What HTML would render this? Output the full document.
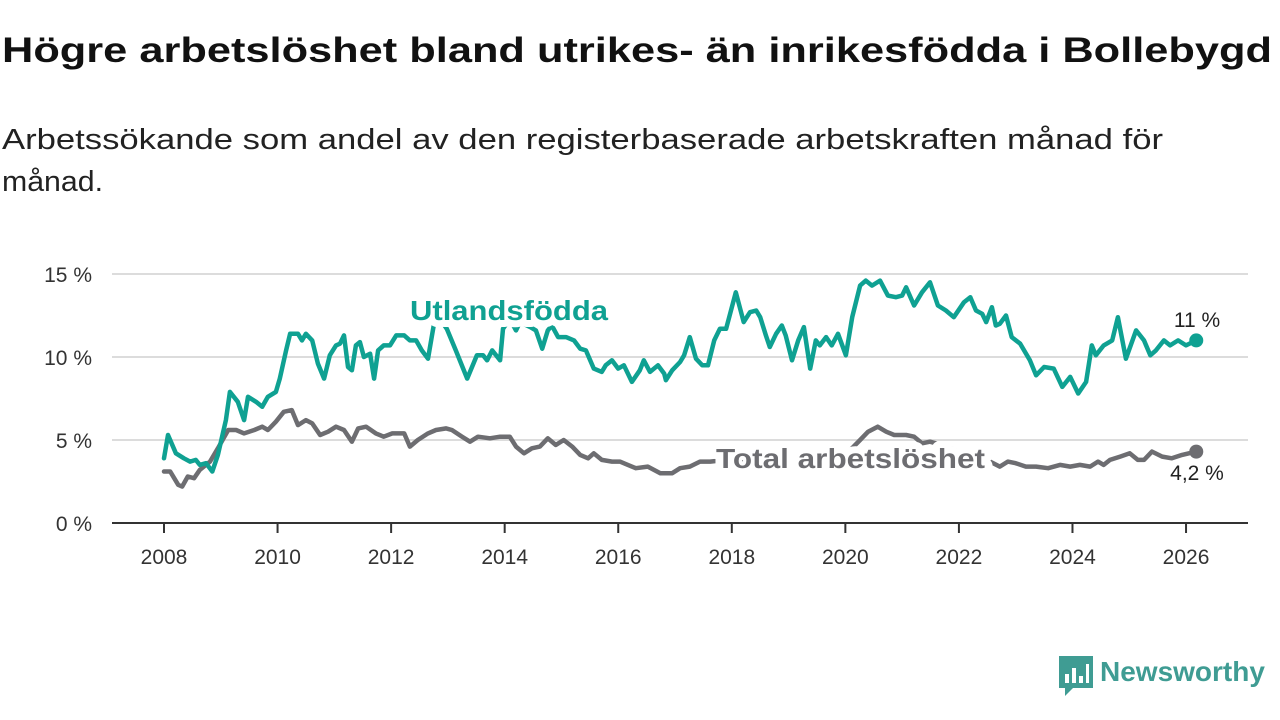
<!DOCTYPE html>
<html><head><meta charset="utf-8">
<style>
body{margin:0;background:#fff;width:1280px;height:720px;overflow:hidden;font-family:"Liberation Sans","DejaVu Sans",sans-serif;}
svg{position:absolute;left:0;top:0}
</style></head><body>
<svg id="chart" width="1280" height="720">
<text x="2" y="62" font-size="35" font-weight="bold" fill="#111" font-family="Liberation Sans, DejaVu Sans, sans-serif" textLength="1270" lengthAdjust="spacingAndGlyphs">Högre arbetslöshet bland utrikes- än inrikesfödda i Bollebygd</text>
<text font-size="29" fill="#222" font-family="Liberation Sans, DejaVu Sans, sans-serif"><tspan x="2" y="149" textLength="1161" lengthAdjust="spacingAndGlyphs">Arbetssökande som andel av den registerbaserade arbetskraften månad för</tspan><tspan x="2" y="191" textLength="101" lengthAdjust="spacingAndGlyphs">månad.</tspan></text>
</svg>
<script>
const yTicks=[0,5,10,15];
const xTicks=[2008,2010,2012,2014,2016,2018,2020,2022,2024,2026];
const foreignT=[2008.0,2008.07,2008.21,2008.35,2008.46,2008.56,2008.63,2008.74,2008.85,2008.95,2009.09,2009.16,2009.30,2009.41,2009.48,2009.62,2009.73,2009.83,2009.97,2010.04,2010.15,2010.22,2010.36,2010.43,2010.50,2010.61,2010.71,2010.82,2010.92,2011.03,2011.10,2011.17,2011.24,2011.31,2011.38,2011.45,2011.52,2011.63,2011.70,2011.77,2011.87,2011.98,2012.09,2012.23,2012.33,2012.44,2012.54,2012.65,2012.72,2012.76,2012.86,2012.98,2013.14,2013.34,2013.51,2013.62,2013.69,2013.78,2013.92,2013.97,2014.09,2014.20,2014.27,2014.45,2014.55,2014.66,2014.76,2014.83,2014.94,2015.08,2015.22,2015.33,2015.43,2015.57,2015.71,2015.78,2015.89,2016.0,2016.10,2016.24,2016.38,2016.45,2016.56,2016.70,2016.81,2016.84,2016.95,2017.09,2017.16,2017.26,2017.37,2017.48,2017.58,2017.69,2017.79,2017.90,2017.97,2018.07,2018.21,2018.32,2018.43,2018.50,2018.60,2018.67,2018.78,2018.88,2018.95,2019.06,2019.17,2019.27,2019.38,2019.48,2019.55,2019.66,2019.76,2019.87,2020.01,2020.12,2020.26,2020.36,2020.47,2020.61,2020.75,2020.89,2021.0,2021.07,2021.21,2021.35,2021.49,2021.63,2021.77,2021.91,2022.09,2022.20,2022.30,2022.41,2022.48,2022.58,2022.65,2022.72,2022.83,2022.93,2023.08,2023.25,2023.36,2023.50,2023.67,2023.82,2023.96,2024.10,2024.24,2024.34,2024.41,2024.55,2024.70,2024.80,2024.94,2025.12,2025.26,2025.37,2025.47,2025.61,2025.72,2025.86,2026.0,2026.18];
const foreignV=[3.9,5.3,4.2,3.9,3.7,3.8,3.5,3.6,3.1,4.1,6.2,7.9,7.3,6.2,7.6,7.3,7.0,7.6,7.9,8.7,10.4,11.4,11.4,11.0,11.4,11.0,9.6,8.7,10.1,10.7,10.8,11.3,9.4,9.2,10.7,10.9,10.0,10.2,8.7,10.4,10.7,10.7,11.3,11.3,11.0,11.0,10.4,9.9,11.3,12.1,12.3,11.7,10.4,8.7,10.1,10.1,9.8,10.4,9.8,11.7,12.3,11.6,12.1,11.8,11.6,10.5,11.6,11.9,11.2,11.2,11.0,10.5,10.4,9.3,9.1,9.5,9.8,9.3,9.5,8.5,9.2,9.8,9.1,9.5,9.0,8.6,9.2,9.7,10.1,11.2,9.9,9.5,9.5,11.0,11.7,11.7,12.6,13.9,12.1,12.7,12.8,12.4,11.3,10.6,11.4,11.9,11.3,9.8,11.0,11.8,9.3,11.0,10.7,11.2,10.7,11.4,10.1,12.4,14.3,14.6,14.3,14.6,13.7,13.6,13.7,14.2,13.1,13.9,14.5,13.1,12.8,12.4,13.3,13.6,12.8,12.6,12.1,13.0,11.9,12.0,12.5,11.2,10.8,9.8,8.9,9.4,9.3,8.2,8.8,7.8,8.5,10.7,10.1,10.7,11.0,12.4,9.9,11.6,11.0,10.1,10.4,11.0,10.7,11.0,10.7,11.0];
const totalT=[2008.0,2008.11,2008.25,2008.32,2008.42,2008.53,2008.63,2008.81,2008.95,2009.13,2009.27,2009.41,2009.59,2009.73,2009.83,2009.97,2010.11,2010.25,2010.36,2010.50,2010.61,2010.75,2010.89,2011.03,2011.17,2011.31,2011.42,2011.56,2011.73,2011.87,2012.02,2012.23,2012.33,2012.47,2012.65,2012.79,2012.97,2013.07,2013.25,2013.39,2013.53,2013.74,2013.92,2014.09,2014.20,2014.34,2014.48,2014.62,2014.76,2014.90,2015.04,2015.19,2015.33,2015.47,2015.57,2015.71,2015.89,2016.03,2016.17,2016.31,2016.52,2016.74,2016.95,2017.09,2017.26,2017.44,2017.62,2017.9,2018.2,2018.5,2018.8,2019.1,2019.4,2019.7,2020.0,2020.26,2020.40,2020.57,2020.72,2020.86,2021.07,2021.21,2021.35,2021.49,2021.7,2022.0,2022.3,2022.5,2022.55,2022.72,2022.86,2023.0,2023.18,2023.36,2023.57,2023.78,2023.96,2024.13,2024.31,2024.45,2024.55,2024.66,2024.84,2025.01,2025.15,2025.26,2025.40,2025.58,2025.75,2025.93,2026.18];
const totalV=[3.1,3.1,2.3,2.2,2.8,2.7,3.2,3.7,4.5,5.6,5.6,5.4,5.6,5.8,5.6,6.1,6.7,6.8,5.9,6.2,6.0,5.3,5.5,5.8,5.6,4.9,5.7,5.8,5.4,5.2,5.4,5.4,4.6,5.0,5.4,5.6,5.7,5.6,5.2,4.9,5.2,5.1,5.2,5.2,4.6,4.2,4.5,4.6,5.1,4.7,5.0,4.6,4.1,3.9,4.2,3.8,3.7,3.7,3.5,3.3,3.4,3.0,3.0,3.3,3.4,3.7,3.7,3.8,3.7,3.6,3.7,3.9,3.8,4.0,4.1,5.0,5.5,5.8,5.5,5.3,5.3,5.2,4.8,4.9,4.7,4.3,4.0,3.9,3.7,3.4,3.7,3.6,3.4,3.4,3.3,3.5,3.4,3.5,3.4,3.7,3.5,3.8,4.0,4.2,3.8,3.8,4.3,4.0,3.9,4.1,4.3];

const NS='http://www.w3.org/2000/svg';
const svg=document.getElementById('chart');
const X=t=>164+(t-2008)*56.78;
const Y=v=>523-v*16.6;
function mk(tag,attrs,parent){const e=document.createElementNS(NS,tag);for(const k in attrs)e.setAttribute(k,attrs[k]);(parent||svg).appendChild(e);return e;}
const F='"Liberation Sans","DejaVu Sans",sans-serif';
yTicks.forEach(v=>{
  if(v>0){const g=mk('line',{x1:112,x2:1248,y1:Y(v),y2:Y(v),stroke:'#dcdcdc','stroke-width':2});
  
  }
  const t=mk('text',{x:92,y:Y(v)+8,'text-anchor':'end','font-size':21,fill:'#333','font-family':F});
  t.textContent=v+' %';
  
  
});
const ax=mk('line',{x1:112,x2:1248,y1:523,y2:523,stroke:'#333','stroke-width':2});


xTicks.forEach(yr=>{
  const tk=mk('line',{x1:X(yr),x2:X(yr),y1:523,y2:533,stroke:'#333','stroke-width':2});
  
  
  const t=mk('text',{x:X(yr),y:564,'text-anchor':'middle','font-size':21,fill:'#333','font-family':F});
  t.textContent=yr;
  
  
});
function line(T,V,color,name){
  const d=T.map((t,i)=>(i?'L':'M')+X(t).toFixed(1)+','+Y(V[i]).toFixed(1)).join('');
  const p=mk('path',{d:d,fill:'none',stroke:color,'stroke-width':4.5,'stroke-linejoin':'round','stroke-linecap':'round'});
  
  
  const n=T.length-1;
  const c=mk('circle',{cx:X(T[n]),cy:Y(V[n]),r:7,fill:color});
  
  
}
line(totalT,totalV,'#6d6d71','total-line');
line(foreignT,foreignV,'#0fa192','foreign-born-line');
function label(txt,x,y,size,color,bold,name,anchor,len){
  const a={x:x,y:y,'font-size':size,fill:color,'font-weight':bold?'bold':'normal','font-family':F,stroke:'#fff','stroke-width':bold?14:5,'paint-order':'stroke','stroke-linejoin':'round','text-anchor':anchor||'start'};
  if(len){a.textLength=len;a.lengthAdjust='spacingAndGlyphs';}
  const t=mk('text',a);
  t.textContent=txt;
  
  
}
label('Utlandsfödda',410,320,28,'#0fa192',true,'foreign-born-label',null,198);
label('Total arbetslöshet',716,468,28,'#6d6d71',true,'total-label',null,269);
label('11 %',1197,327,21,'#222',false,'foreign-end-value','middle');
label('4,2 %',1197,480,21,'#222',false,'total-end-value','middle');
</script>
<div style="position:absolute;left:1059px;top:656px;height:40px;display:flex;align-items:center">
<svg width="34" height="40" style="position:static" viewBox="0 0 34 40"><path d="M0 0H34V32H14L6 40V32H0Z" fill="#3f9c93"/><rect x="6" y="18" width="4" height="9" fill="#fff"/><rect x="13" y="12" width="4" height="15" fill="#fff"/><rect x="20" y="20" width="4" height="7" fill="#fff"/><rect x="27" y="8" width="3" height="19" fill="#fff"/></svg>
<span style="margin-left:7px;font-size:28px;font-weight:bold;color:#3f9c93;margin-top:-8px">Newsworthy</span></div>
</body></html>
